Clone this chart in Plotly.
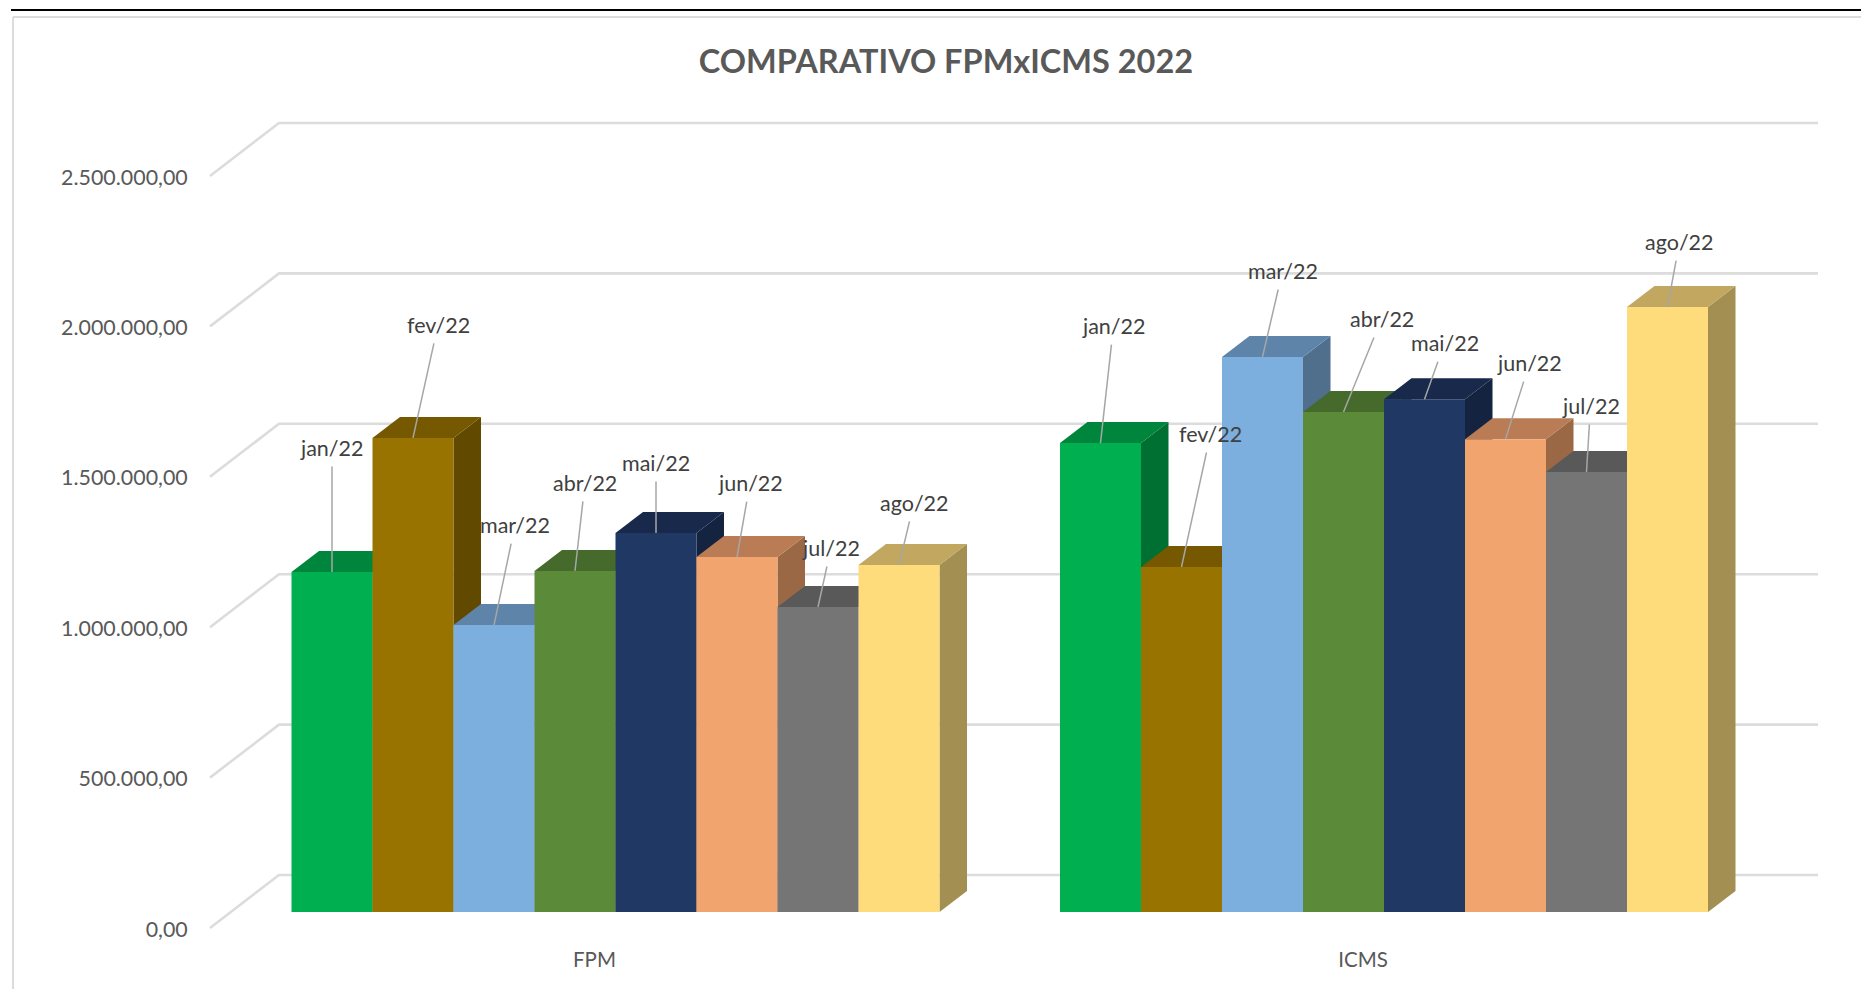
import plotly.graph_objects as go

# ---------- data ----------
categories = ["FPM", "ICMS"]
months = ["jan/22", "fev/22", "mar/22", "abr/22", "mai/22", "jun/22", "jul/22", "ago/22"]
fpm_values = [1130000, 1576000, 954000, 1134000, 1260000, 1180000, 1014000, 1154000]
icms_values = [1559000, 1147000, 1845000, 1662000, 1705000, 1572000, 1463000, 2011000]
y_ticks = [0, 500000, 1000000, 1500000, 2000000, 2500000]
y_tick_labels = ["0,00", "500.000,00", "1.000.000,00", "1.500.000,00", "2.000.000,00", "2.500.000,00"]
title_text = "COMPARATIVO FPMxICMS 2022"

# ---------- style ----------
front_colors = ["#00B050", "#997300", "#7CAEDE", "#5B8A38", "#203864", "#F2A46F", "#757575", "#FEDC7C"]
top_colors = ["#00853C", "#755800", "#5E84A9", "#456A2B", "#18294C", "#B97C54", "#595959", "#C1A75F"]
side_colors = ["#006F32", "#614900", "#4F6F8D", "#3A5A24", "#142440", "#9B6846", "#4B4B4B", "#A38F52"]
text_color = "#595959"
label_color = "#404040"
grid_color = "#DCDCDC"
leader_color = "#A6A6A6"
FONT = "Lato, Carlito, sans-serif"

# pixel offsets of the hand-placed data labels (from bar-top centre)
fpm_label_offsets = [(0, -124), (25, -113), (21, -100), (10, -88), (0, -70), (13, -74), (13, -59), (15, -62)]
icms_label_offsets = [(13, -117), (29, -133), (20, -86), (38, -93), (20, -56), (24, -76), (4, -66), (12, -65)]

# ---------- geometry ----------
W, H = 1861, 989
PLOT_L, PLOT_B = 196, 945
ZERO_PY = 912          # page y of value 0 on the bars' front plane
PX_PER_VALUE = 150.4 / 500000
CAT0_PX, CAT_STEP_PX = 615.5, 768.5
BAR_PX = 81.0


def dv(px):  # vertical pixels -> value units
    return px / PX_PER_VALUE


def dx(px):  # horizontal pixels -> category units
    return px / CAT_STEP_PX


def cx(px):  # page x -> category axis
    return (px - CAT0_PX) / CAT_STEP_PX


x_range = [cx(PLOT_L), cx(W)]
y_range = [dv(ZERO_PY - PLOT_B), dv(ZERO_PY)]

bar_w = dx(BAR_PX)
depth_x, depth_y = dx(27.5), dv(21)
n = len(months)
series = [fpm_values, icms_values]

fig = go.Figure()

# gridlines on floor/back wall, one per axis tick
for t in y_ticks:
    fig.add_trace(go.Scatter(
        x=[cx(210), cx(279), cx(1818)],
        y=[t - dv(16), t + dv(37), t + dv(37)],
        mode="lines", line=dict(color=grid_color, width=2.6),
        hoverinfo="skip", showlegend=False))

# top and side faces
for c, vals in enumerate(series):
    for j, v in enumerate(vals):
        x0 = c + (j - n / 2) * bar_w
        x1 = x0 + bar_w
        fig.add_trace(go.Scatter(
            x=[x1, x1 + depth_x, x1 + depth_x, x1, x1],
            y=[v, v + depth_y, depth_y, 0, v],
            mode="lines", fill="toself", fillcolor=side_colors[j],
            line=dict(width=0, color=side_colors[j]),
            hoverinfo="skip", showlegend=False))
        fig.add_trace(go.Scatter(
            x=[x0, x1, x1 + depth_x, x0 + depth_x, x0],
            y=[v, v, v + depth_y, v + depth_y, v],
            mode="lines", fill="toself", fillcolor=top_colors[j],
            line=dict(width=0, color=top_colors[j]),
            hoverinfo="skip", showlegend=False))

# front faces: real grouped bars on an overlaying axis pair
for j, m in enumerate(months):
    fig.add_trace(go.Bar(
        x=[0, 1], y=[fpm_values[j], icms_values[j]], name=m,
        marker=dict(color=front_colors[j], line=dict(width=0)),
        xaxis="x2", yaxis="y2", showlegend=False))

# data labels with leader lines
annotations = []
for c, (vals, offs) in enumerate(zip(series, [fpm_label_offsets, icms_label_offsets])):
    for j, v in enumerate(vals):
        annotations.append(dict(
            x=c + (j - n / 2 + 0.5) * bar_w, y=v, xref="x2", yref="y2",
            text=months[j], showarrow=True, arrowhead=0, arrowwidth=1.5,
            arrowcolor=leader_color, ax=offs[j][0], ay=offs[j][1],
            axref="pixel", ayref="pixel", borderpad=5, standoff=0,
            font=dict(family=FONT, size=21.5, color=label_color)))


def pxp(px):
    return (px - PLOT_L) / (W - PLOT_L)


def pyp(py):
    return (PLOT_B - py) / PLOT_B


shapes = [
    dict(type="line", xref="paper", yref="paper", x0=pxp(11), x1=pxp(W), y0=pyp(10), y1=pyp(10),
         line=dict(color="#000000", width=2), layer="below"),
    dict(type="line", xref="paper", yref="paper", x0=pxp(13), x1=pxp(W), y0=pyp(17), y1=pyp(17),
         line=dict(color=grid_color, width=2), layer="below"),
    dict(type="line", xref="paper", yref="paper", x0=pxp(13), x1=pxp(13), y0=pyp(17), y1=pyp(H),
         line=dict(color=grid_color, width=2), layer="below"),
]

fig.update_layout(
    width=W, height=H, autosize=False,
    margin=dict(l=PLOT_L, r=0, t=0, b=H - PLOT_B, pad=0),
    paper_bgcolor="white", plot_bgcolor="rgba(0,0,0,0)",
    barmode="group", bargap=1 - n * bar_w, bargroupgap=0,
    showlegend=False, hovermode=False,
    title=dict(text=f"<b>{title_text}</b>", x=946 / W, xref="container",
               xanchor="center", y=1 - 62 / H, yanchor="middle",
               font=dict(family=FONT, size=32.5, color=text_color)),
    xaxis=dict(range=x_range, tickmode="array", tickvals=[i - dx(21) for i in range(2)],
               ticktext=categories, showgrid=False, zeroline=False, showline=False,
               ticks="", tickfont=dict(family=FONT, size=20.5, color=text_color)),
    yaxis=dict(range=y_range, tickmode="array", tickvals=[t - dv(16) + dv(-1) for t in y_ticks],
               ticktext=y_tick_labels, showgrid=False, zeroline=False, showline=False,
               ticks="outside", ticklen=3, tickcolor="rgba(0,0,0,0)",
               tickfont=dict(family=FONT, size=21.4, color=text_color)),
    xaxis2=dict(range=x_range, overlaying="x", visible=False),
    yaxis2=dict(range=y_range, overlaying="y", visible=False),
    annotations=annotations, shapes=shapes,
)

fig.write_html("out.html", config={"displayModeBar": False},
               post_script="document.body.style.margin='0';document.body.style.overflow='hidden';")
